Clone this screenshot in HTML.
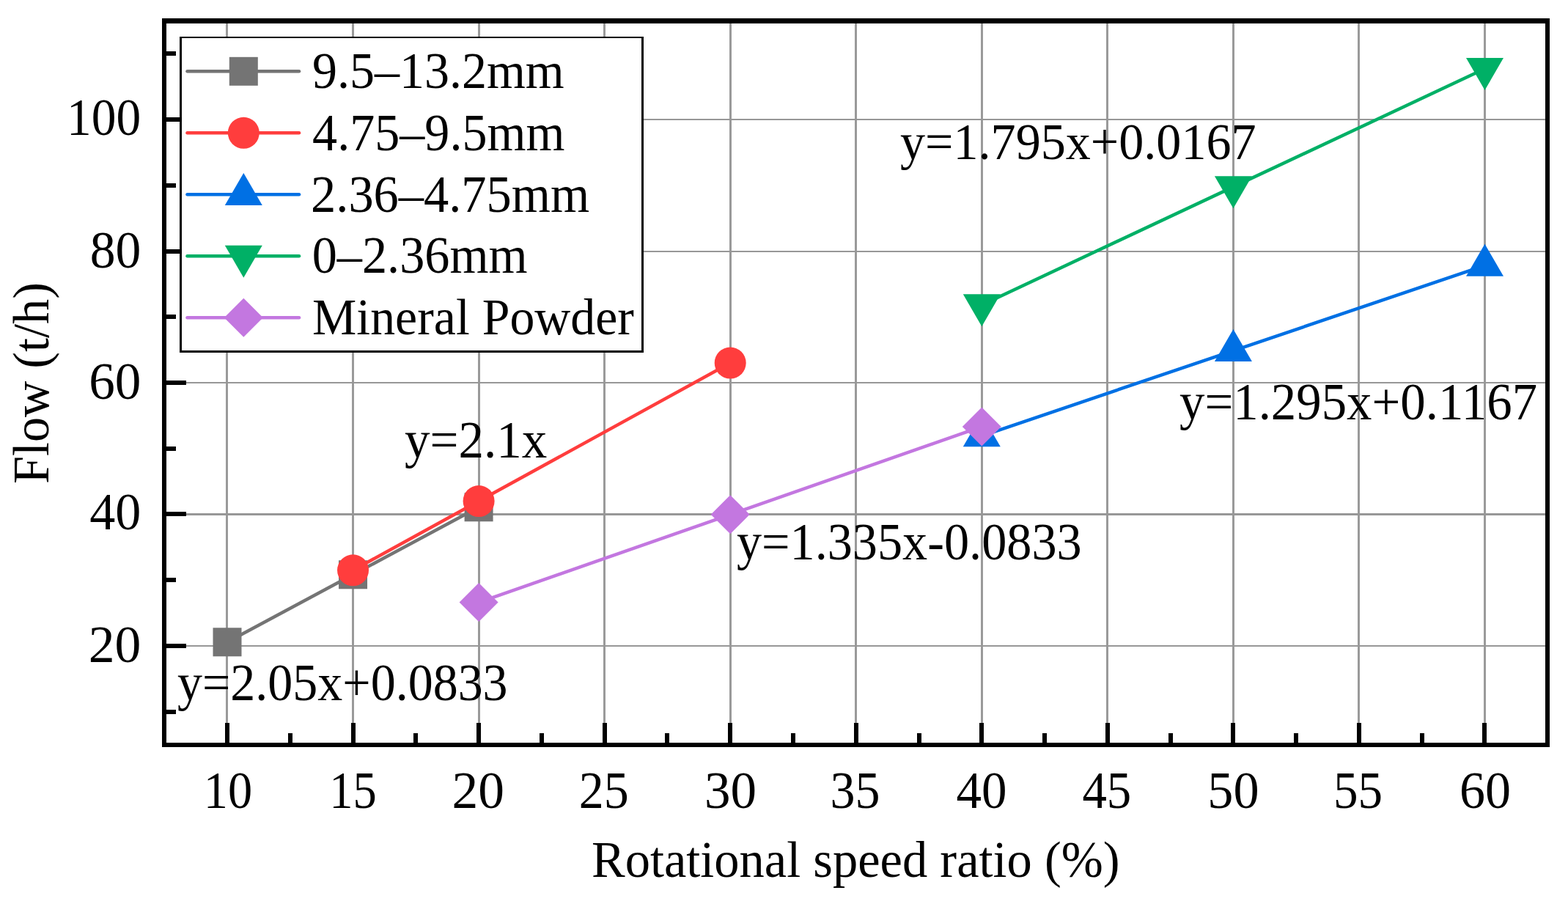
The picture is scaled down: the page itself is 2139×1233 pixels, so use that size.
<!DOCTYPE html><html><head><meta charset="utf-8"><title>Flow vs rotational speed ratio</title><style>html,body{margin:0;padding:0;background:#fff;overflow:hidden}svg{display:block}</style></head><body>
<svg width="2139" height="1233" viewBox="0 0 2139 1233">
<rect width="2139" height="1233" fill="#fff"/>
<rect x="308" y="32" width="3" height="981" fill="#9A9A9A"/><rect x="480" y="32" width="3" height="981" fill="#9A9A9A"/><rect x="652" y="32" width="3" height="981" fill="#9A9A9A"/><rect x="823" y="32" width="3" height="981" fill="#9A9A9A"/><rect x="995" y="32" width="3" height="981" fill="#9A9A9A"/><rect x="1166" y="32" width="3" height="981" fill="#9A9A9A"/><rect x="1338" y="32" width="3" height="981" fill="#9A9A9A"/><rect x="1509" y="32" width="3" height="981" fill="#9A9A9A"/><rect x="1681" y="32" width="3" height="981" fill="#9A9A9A"/><rect x="1852" y="32" width="3" height="981" fill="#9A9A9A"/><rect x="2024" y="32" width="3" height="981" fill="#9A9A9A"/><rect x="227" y="162" width="1881" height="2" fill="#979797"/><rect x="227" y="342" width="1881" height="2" fill="#979797"/><rect x="227" y="521" width="1881" height="2" fill="#979797"/><rect x="227" y="700" width="1881" height="3" fill="#979797"/><rect x="227" y="880" width="1881" height="2" fill="#979797"/>
<rect x="307" y="986" width="6" height="27" fill="#000"/><rect x="393" y="1000" width="6" height="13" fill="#000"/><rect x="479" y="986" width="6" height="27" fill="#000"/><rect x="564" y="1000" width="6" height="13" fill="#000"/><rect x="650" y="986" width="6" height="27" fill="#000"/><rect x="736" y="1000" width="6" height="13" fill="#000"/><rect x="822" y="986" width="6" height="27" fill="#000"/><rect x="907" y="1000" width="6" height="13" fill="#000"/><rect x="993" y="986" width="6" height="27" fill="#000"/><rect x="1079" y="1000" width="6" height="13" fill="#000"/><rect x="1165" y="986" width="6" height="27" fill="#000"/><rect x="1251" y="1000" width="6" height="13" fill="#000"/><rect x="1336" y="986" width="6" height="27" fill="#000"/><rect x="1422" y="1000" width="6" height="13" fill="#000"/><rect x="1508" y="986" width="6" height="27" fill="#000"/><rect x="1594" y="1000" width="6" height="13" fill="#000"/><rect x="1679" y="986" width="6" height="27" fill="#000"/><rect x="1765" y="1000" width="6" height="13" fill="#000"/><rect x="1851" y="986" width="6" height="27" fill="#000"/><rect x="1937" y="1000" width="6" height="13" fill="#000"/><rect x="2022" y="986" width="6" height="27" fill="#000"/><rect x="227" y="968" width="13" height="6" fill="#000"/><rect x="227" y="878" width="27" height="6" fill="#000"/><rect x="227" y="788" width="13" height="6" fill="#000"/><rect x="227" y="698" width="27" height="6" fill="#000"/><rect x="227" y="609" width="13" height="6" fill="#000"/><rect x="227" y="519" width="27" height="6" fill="#000"/><rect x="227" y="429" width="13" height="6" fill="#000"/><rect x="227" y="340" width="27" height="6" fill="#000"/><rect x="227" y="250" width="13" height="6" fill="#000"/><rect x="227" y="160" width="27" height="6" fill="#000"/><rect x="227" y="70" width="13" height="6" fill="#000"/>
<rect x="221" y="25" width="1893" height="7" fill="#000"/>
<rect x="221" y="1013" width="1893" height="6" fill="#000"/>
<rect x="221" y="25" width="6" height="994" fill="#000"/>
<rect x="2108" y="25" width="6" height="994" fill="#000"/>
<g font-family="'Liberation Serif', serif" font-size="68" fill="#000"><text transform="translate(277.84 1101.50) scale(0.9763 1.0682)">10</text><text transform="translate(449.31 1101.50) scale(0.9492 1.0682)">15</text><text transform="translate(616.45 1101.50) scale(1.0516 1.0682)">20</text><text transform="translate(789.80 1101.50) scale(1.0000 1.0682)">25</text><text transform="translate(961.06 1101.50) scale(1.0452 1.0682)">30</text><text transform="translate(1132.60 1101.50) scale(1.0000 1.0682)">35</text><text transform="translate(1304.58 1101.50) scale(1.0156 1.0682)">40</text><text transform="translate(1476.42 1101.50) scale(0.9828 1.0682)">45</text><text transform="translate(1647.37 1101.50) scale(1.0328 1.0682)">50</text><text transform="translate(1819.05 1101.50) scale(0.9869 1.0682)">55</text><text transform="translate(1990.91 1101.50) scale(1.0306 1.0682)">60</text><text transform="translate(120.74 903.00) scale(1.0532 1.0682)">20</text><text transform="translate(122.17 722.00) scale(1.0312 1.0682)">40</text><text transform="translate(121.16 544.30) scale(1.0468 1.0682)">60</text><text transform="translate(122.63 364.60) scale(1.0242 1.0682)">80</text><text transform="translate(91.05 184.00) scale(0.9914 1.0682)">100</text><text transform="translate(806.99 1196.00) scale(1.0070 1.0227)">Rotational speed ratio (%)</text><text transform="translate(242.00 955.00) scale(1.0000 1.0682)">y=2.05x+0.0833</text><text transform="translate(551.88 624.00) scale(1.0164 1.0523)">y=2.1x</text><text transform="translate(1004.90 763.10) scale(1.0039 1.0523)">y=1.335x-0.0833</text><text transform="translate(1608.99 571.50) scale(1.0125 1.0455)">y=1.295x+0.1167</text><text transform="translate(1228.00 216.90) scale(1.0021 1.0341)">y=1.795x+0.0167</text></g>
<text font-family="'Liberation Serif', serif" font-size="68" transform="translate(66 660.01) rotate(-90) scale(1.0037 1.0250)">Flow (t/h)</text>
<polyline points="310.00,875.76 481.55,783.77 653.10,691.78" fill="none" stroke="#747474" stroke-width="4.5" stroke-linejoin="round"/>
<rect x="290.50" y="856.26" width="39" height="39" fill="#747474"/><rect x="462.05" y="764.27" width="39" height="39" fill="#747474"/><rect x="633.60" y="672.28" width="39" height="39" fill="#747474"/>
<polyline points="481.55,777.79 653.10,683.55 996.20,495.07" fill="none" stroke="#FF3D3D" stroke-width="4.5" stroke-linejoin="round"/>
<circle cx="481.55" cy="777.79" r="21.5" fill="#FF3D3D"/><circle cx="653.10" cy="683.55" r="21.5" fill="#FF3D3D"/><circle cx="996.20" cy="495.07" r="21.5" fill="#FF3D3D"/>
<polyline points="1339.30,594.55 1682.40,478.32 2025.50,362.10" fill="none" stroke="#0070E4" stroke-width="4.5" stroke-linejoin="round"/>
<polygon points="1339.30,565.21 1364.80,609.21 1313.80,609.21" fill="#0070E4"/><polygon points="1682.40,448.99 1707.90,492.99 1656.90,492.99" fill="#0070E4"/><polygon points="2025.50,332.76 2051.00,376.76 2000.00,376.76" fill="#0070E4"/>
<polyline points="1339.30,415.95 1682.40,254.84 2025.50,93.74" fill="none" stroke="#00B066" stroke-width="4.5" stroke-linejoin="round"/>
<polygon points="1313.80,401.28 1364.80,401.28 1339.30,445.28" fill="#00B066"/><polygon points="1656.90,240.18 1707.90,240.18 1682.40,284.18" fill="#00B066"/><polygon points="2000.00,79.08 2051.00,79.08 2025.50,123.08" fill="#00B066"/>
<polyline points="653.10,821.62 996.20,701.80 1339.30,581.98" fill="none" stroke="#C377E0" stroke-width="4.5" stroke-linejoin="round"/>
<polygon points="653.10,795.12 679.60,821.62 653.10,848.12 626.60,821.62" fill="#C377E0"/><polygon points="996.20,675.30 1022.70,701.80 996.20,728.30 969.70,701.80" fill="#C377E0"/><polygon points="1339.30,555.48 1365.80,581.98 1339.30,608.48 1312.80,581.98" fill="#C377E0"/>
<rect x="245" y="50" width="633" height="431" fill="#fff"/><rect x="245" y="50" width="633" height="2"/><rect x="245" y="478" width="633" height="3"/><rect x="245" y="50" width="3" height="431"/><rect x="875" y="50" width="3" height="431"/>
<line x1="255.5" y1="97.30" x2="408" y2="97.30" stroke="#747474" stroke-width="4.5" stroke-linecap="round"/>
<rect x="312.80" y="77.80" width="39" height="39" fill="#747474"/>
<line x1="255.5" y1="181.30" x2="408" y2="181.30" stroke="#FF3D3D" stroke-width="4.5" stroke-linecap="round"/>
<circle cx="332.30" cy="181.30" r="21.5" fill="#FF3D3D"/>
<line x1="255.5" y1="265.30" x2="408" y2="265.30" stroke="#0070E4" stroke-width="4.5" stroke-linecap="round"/>
<polygon points="332.30,235.97 357.80,279.97 306.80,279.97" fill="#0070E4"/>
<line x1="255.5" y1="349.30" x2="408" y2="349.30" stroke="#00B066" stroke-width="4.5" stroke-linecap="round"/>
<polygon points="306.80,334.63 357.80,334.63 332.30,378.63" fill="#00B066"/>
<line x1="255.5" y1="433.30" x2="408" y2="433.30" stroke="#C377E0" stroke-width="4.5" stroke-linecap="round"/>
<polygon points="332.30,406.80 358.80,433.30 332.30,459.80 305.80,433.30" fill="#C377E0"/>
<g font-family="'Liberation Serif', serif" font-size="68" fill="#000"><text transform="translate(426.00 120.30) scale(1.0000 1.0364)">9.5–13.2mm</text><text transform="translate(426.10 204.50) scale(1.0018 1.0545)">4.75–9.5mm</text><text transform="translate(424.08 289.00) scale(1.0061 1.0705)">2.36–4.75mm</text><text transform="translate(425.69 372.30) scale(1.0042 1.0591)">0–2.36mm</text><text transform="translate(426.00 456.00) scale(0.9977 1.0227)">Mineral Powder</text></g>
</svg></body></html>
